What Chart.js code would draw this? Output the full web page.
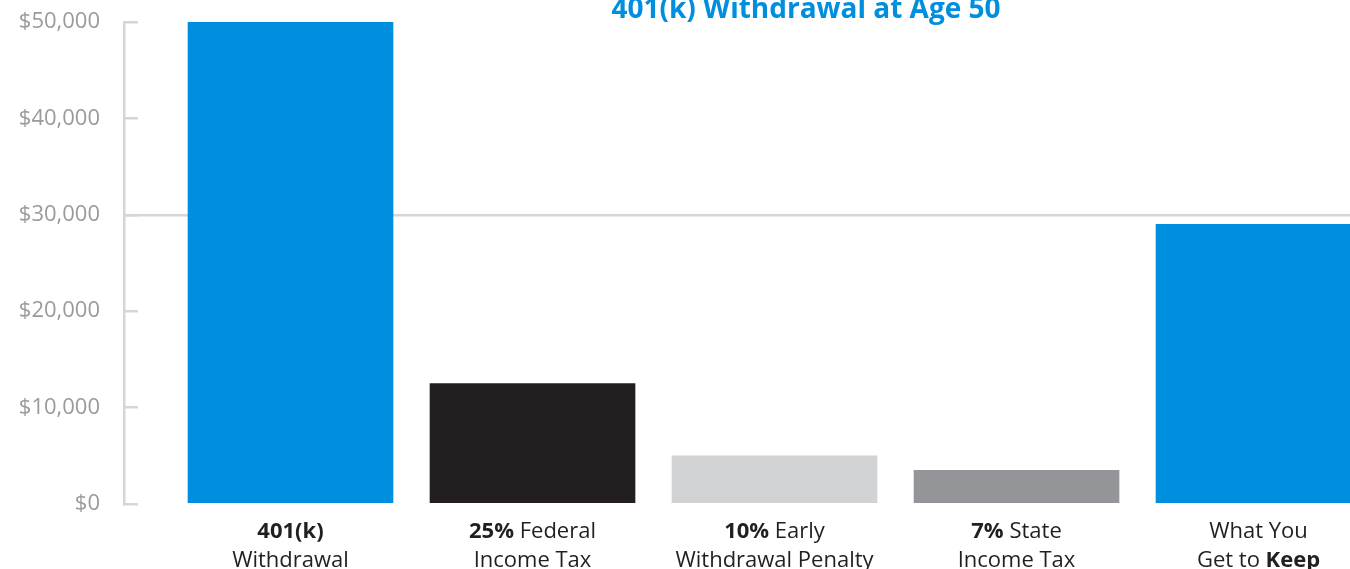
<!DOCTYPE html>
<html>
<head>
    <title>401(k) Withdrawal at Age 50</title>
    <script src="https://cdn.jsdelivr.net/npm/chart.js"></script>
    <style>
        body { margin: 0; overflow: hidden; background: #fff; }
    </style>
</head>
<body>
    <canvas id="withdrawChart" width="1380" height="569"></canvas>

    <script>
        // ** marks the bold part of a label line
        const categories = [
            ['**401(k)**', 'Withdrawal'],
            ['**25%** Federal', 'Income Tax'],
            ['**10%** Early', 'Withdrawal Penalty'],
            ['**7%** State', 'Income Tax'],
            ['What You', 'Get to **Keep**']
        ];
        const amounts = [50000, 12500, 5000, 3500, 29000];
        const barColors = ['#008fde', '#231f20', '#d1d2d4', '#939598', '#008fde'];
        const yTicks = [0, 10000, 20000, 30000, 40000, 50000];
        const chartTitle = '401(k) Withdrawal at Age 50';

        const FONT = "'Open Sans', sans-serif";
        const GRID = '#d6d6d6';

        // category labels under the bars, mixed bold / regular
        const labelPlugin = {
            id: 'mixedLabels',
            afterDraw(chart) {
                const ctx = chart.ctx;
                const xs = chart.scales.x;
                const bottom = chart.chartArea.bottom;
                ctx.save();
                ctx.fillStyle = '#231f20';
                ctx.textBaseline = 'alphabetic';
                ctx.textAlign = 'left';
                categories.forEach((lines, i) => {
                    const cx = xs.getPixelForValue(i);
                    lines.forEach((line, li) => {
                        const parts = line.split('**').map((t, k) => ({ t, bold: k % 2 === 1 })).filter(p => p.t);
                        let total = 0;
                        parts.forEach(p => {
                            ctx.font = (p.bold ? '700 ' : '400 ') + '22px ' + FONT;
                            p.w = ctx.measureText(p.t).width;
                            total += p.w;
                        });
                        let x = cx - total / 2;
                        const y = bottom + 34 + li * 29;
                        parts.forEach(p => {
                            ctx.font = (p.bold ? '700 ' : '400 ') + '22px ' + FONT;
                            ctx.fillText(p.t, x, y);
                            x += p.w;
                        });
                    });
                });
                // title
                ctx.font = '700 28px ' + FONT;
                ctx.fillStyle = '#008fde';
                ctx.textAlign = 'center';
                ctx.fillText(chartTitle, 806, 18);
                ctx.restore();
            }
        };

        const ctx = document.getElementById('withdrawChart').getContext('2d');

        new Chart(ctx, {
            type: 'bar',
            data: {
                datasets: [{
                    data: amounts.map((v, i) => ({ x: i, y: v })),
                    backgroundColor: barColors,
                    barThickness: 205
                }]
            },
            options: {
                responsive: false,
                animation: false,
                layout: { padding: { top: 22, bottom: 65, left: 0, right: 0 } },
                plugins: {
                    legend: { display: false },
                    tooltip: { enabled: false }
                },
                scales: {
                    x: {
                        type: 'linear',
                        offset: false,
                        min: -0.688,
                        max: 4.502,
                        display: false
                    },
                    y: {
                        min: 0,
                        max: 50000,
                        afterFit: s => {
                            s.width = 124;
                            s.paddingTop = 0;
                            s.paddingBottom = 0;
                        },
                        afterBuildTicks: s => { s.ticks = yTicks.map(v => ({ value: v })); },
                        border: { display: true, color: GRID, width: 2.5 },
                        grid: {
                            color: c => (c.tick && c.tick.value === 30000) ? GRID : 'rgba(0,0,0,0)',
                            lineWidth: 2.5,
                            tickColor: GRID,
                            tickWidth: 2.5,
                            tickLength: -14
                        },
                        ticks: {
                            padding: 38,
                            color: '#9a9a9a',
                            font: { family: FONT, size: 22 },
                            callback: v => '$' + v.toLocaleString('en-US')
                        }
                    }
                }
            },
            plugins: [labelPlugin]
        });
    </script>
</body>
</html>
